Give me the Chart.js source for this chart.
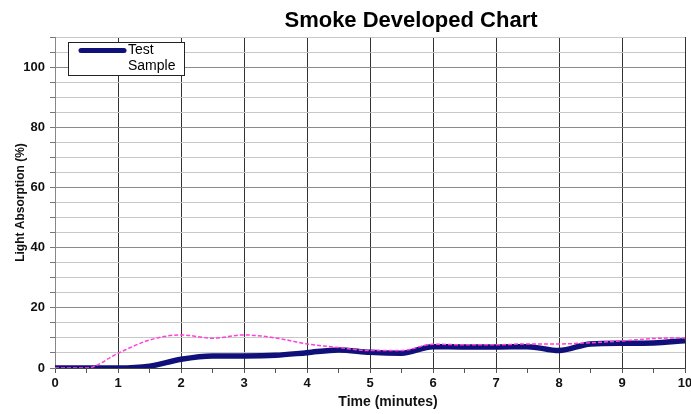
<!DOCTYPE html>
<html>
<head>
<meta charset="utf-8">
<script src="https://cdn.jsdelivr.net/npm/chart.js@4/dist/chart.umd.min.js"></script>
<style>
  html, body { margin: 0; padding: 0; background: #fff; }
  #wrap { width: 691px; height: 414px; }
</style>
</head>
<body>
<div id="wrap"><canvas id="smokeChart" width="691" height="414"></canvas></div>
<script>
// time in minutes, readings every half minute
const times = [0, 0.5, 1, 1.5, 2, 2.5, 3, 3.5, 4, 4.5, 5, 5.5, 6, 6.5, 7, 7.5, 8, 8.5, 9, 9.5, 10];
const testValues = [0, 0, 0, 0.6, 2.9, 4, 4, 4.2, 5.1, 6, 5.2, 4.9, 7.1, 7, 7, 7.1, 5.8, 8, 8.2, 8.3, 9.1];
const sampleValues = [0, 0, 4.9, 9.3, 11, 9.9, 11, 10, 8, 6.8, 5.8, 5.8, 7.9, 7.7, 7.7, 8, 8, 8.4, 9, 9.8, 10];
const yLabels = [0, 20, 40, 60, 80, 100];

const FONT = "'Liberation Sans', Arial, sans-serif";

const toPoints = vals => vals.map((v, i) => ({ x: times[i], y: v }));

// main title, x axis title and inline legend box, drawn on top of the plot
const overlay = {
    id: "overlay",
    afterDraw(chart) {
        const ctx = chart.ctx;
        ctx.save();
        ctx.fillStyle = "#000";
        ctx.font = "bold 22px " + FONT;
        ctx.textAlign = "center";
        ctx.textBaseline = "alphabetic";
        ctx.fillText("Smoke Developed Chart", 411, 27);

        ctx.fillStyle = "#111";
        ctx.font = "bold 14px " + FONT;
        ctx.textBaseline = "middle";
        ctx.fillText("Time (minutes)", 388, 402);

        // legend
        ctx.fillStyle = "#fff";
        ctx.fillRect(68.5, 42.5, 116, 33);
        ctx.strokeStyle = "#222";
        ctx.lineWidth = 1;
        ctx.strokeRect(68.5, 42.5, 116, 33);
        ctx.strokeStyle = "#10107a";
        ctx.lineWidth = 5;
        ctx.lineCap = "round";
        ctx.beginPath();
        ctx.moveTo(81, 50.5);
        ctx.lineTo(124, 50.5);
        ctx.stroke();
        ctx.fillStyle = "#000";
        ctx.font = "14px " + FONT;
        ctx.textAlign = "left";
        ctx.fillText("Test", 128, 50);
        ctx.fillText("Sample", 128, 66);
        ctx.restore();
    }
};

new Chart(document.getElementById("smokeChart"), {
    type: "line",
    data: {
        datasets: [
            {
                label: "Sample",
                data: toPoints(sampleValues),
                borderColor: "#ff40d8",
                borderWidth: 1.5,
                borderDash: [4, 2],
                pointRadius: 0,
                tension: 0.4,
                cubicInterpolationMode: "monotone",
                fill: false
            },
            {
                label: "Test",
                data: toPoints(testValues),
                borderColor: "#10107a",
                borderWidth: 5.5,
                pointRadius: 0,
                tension: 0.4,
                cubicInterpolationMode: "monotone",
                fill: false
            }
        ]
    },
    options: {
        responsive: false,
        animation: false,
        layout: { padding: { top: 37, right: 6, left: 0, bottom: 0 } },
        plugins: {
            legend: { display: false },
            title: { display: false },
            tooltip: { enabled: false }
        },
        scales: {
            x: {
                type: "linear",
                min: 0,
                max: 10,
                afterFit: s => { s.height = 46; s.paddingRight = 0; s.paddingLeft = 0; },
                afterBuildTicks: s => { s.ticks = times.map(t => ({ value: t })); },
                border: { color: "#444", width: 1 },
                grid: {
                    color: c => (c.tick && Number.isInteger(c.tick.value)) ? "#333" : "rgba(0,0,0,0)",
                    tickColor: "#555",
                    tickLength: 5,
                    lineWidth: 1
                },
                ticks: {
                    autoSkip: false,
                    maxRotation: 0,
                    padding: 3,
                    color: "#111",
                    font: { family: FONT, size: 13, weight: "bold" },
                    callback: v => Number.isInteger(v) ? String(v) : ""
                },
                title: { display: false }
            },
            y: {
                min: 0,
                max: 110,
                afterFit: s => { s.width = 55; },
                afterBuildTicks: s => {
                    const t = [];
                    for (let v = 0; v <= 110; v += 5) t.push({ value: v });
                    s.ticks = t;
                },
                border: { color: "#888", width: 1 },
                grid: {
                    color: c => (c.tick && c.tick.value % 20 === 0) ? "#8a8a8a" : "#c8c8c8",
                    tickColor: "#777",
                    tickLength: 5,
                    lineWidth: 1
                },
                ticks: {
                    autoSkip: false,
                    padding: 5,
                    color: "#111",
                    font: { family: FONT, size: 13, weight: "bold" },
                    callback: v => yLabels.includes(v) ? String(v) : ""
                },
                title: {
                    display: true,
                    text: "Light Absorption (%)",
                    color: "#111",
                    font: { family: FONT, size: 12, weight: "bold" },
                    padding: { top: 13, bottom: 0 }
                }
            }
        }
    },
    plugins: [overlay]
});
</script>
</body>
</html>
